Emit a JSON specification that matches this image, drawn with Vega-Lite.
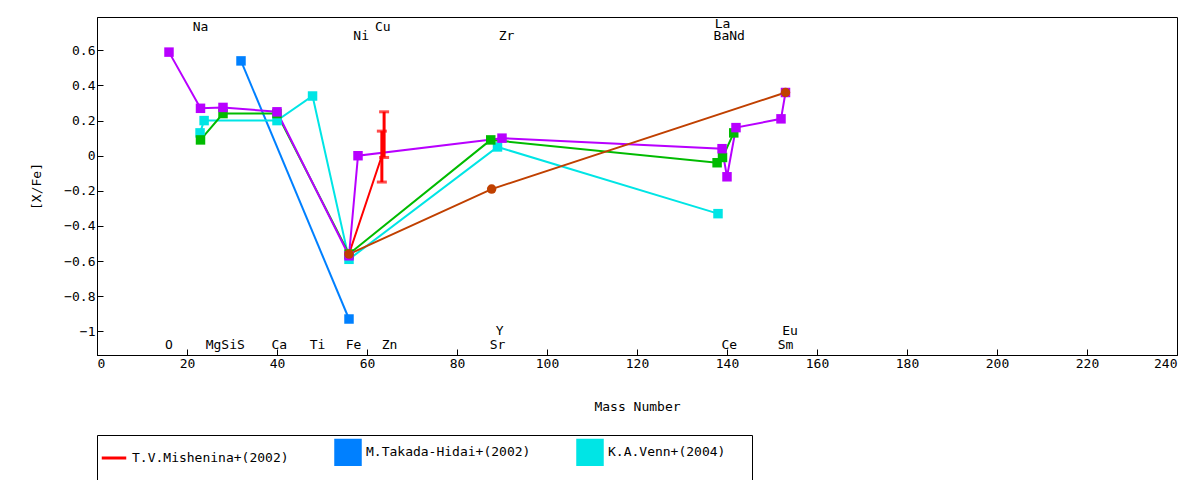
{
"$schema":"https://vega.github.io/schema/vega-lite/v6.json",
"width":1080,"height":338,
"autosize":{"type":"none"},
"padding":{"left":97,"top":17,"right":23,"bottom":125},
"config":{"font":"DejaVu Sans Mono","view":{"stroke":"black","strokeWidth":1},
 "axis":{"grid":false,"domainColor":"black","tickColor":"black","labelFont":"DejaVu Sans Mono","titleFont":"DejaVu Sans Mono","labelFontSize":13,"titleFontSize":13,"titleFontWeight":"normal","labelColor":"black","titleColor":"black","tickSize":-6}},
"datasets":{
"pts":[
{"s":"T.V.Mishenina+(2002)","o":1,"x":56,"y":-0.56},
{"s":"T.V.Mishenina+(2002)","o":2,"x":63.3,"y":0.0,"lo":-0.15,"hi":0.14},
{"s":"T.V.Mishenina+(2002)","o":3,"x":63.8,"y":0.12,"lo":-0.01,"hi":0.25},
{"s":"M.Takada-Hidai+(2002)","o":1,"x":32,"y":0.54},
{"s":"M.Takada-Hidai+(2002)","o":2,"x":56,"y":-0.93},
{"s":"K.A.Venn+(2004)","o":1,"x":22.9,"y":0.13},
{"s":"K.A.Venn+(2004)","o":2,"x":23.8,"y":0.2},
{"s":"K.A.Venn+(2004)","o":3,"x":40,"y":0.2},
{"s":"K.A.Venn+(2004)","o":4,"x":47.9,"y":0.34},
{"s":"K.A.Venn+(2004)","o":5,"x":56,"y":-0.59},
{"s":"K.A.Venn+(2004)","o":6,"x":89,"y":0.05},
{"s":"K.A.Venn+(2004)","o":7,"x":138,"y":-0.33},
{"s":"T.V.Mishenina+(2001)","o":1,"x":23,"y":0.09},
{"s":"T.V.Mishenina+(2001)","o":2,"x":28,"y":0.24},
{"s":"T.V.Mishenina+(2001)","o":3,"x":40,"y":0.24},
{"s":"T.V.Mishenina+(2001)","o":4,"x":56,"y":-0.56},
{"s":"T.V.Mishenina+(2001)","o":5,"x":87.5,"y":0.09},
{"s":"T.V.Mishenina+(2001)","o":6,"x":137.8,"y":-0.04},
{"s":"T.V.Mishenina+(2001)","o":7,"x":139,"y":-0.01},
{"s":"T.V.Mishenina+(2001)","o":8,"x":141.5,"y":0.13},
{"s":"T.V.Mishenina+(2013)","o":1,"x":16,"y":0.59},
{"s":"T.V.Mishenina+(2013)","o":2,"x":23,"y":0.27},
{"s":"T.V.Mishenina+(2013)","o":3,"x":28,"y":0.275},
{"s":"T.V.Mishenina+(2013)","o":4,"x":40,"y":0.25},
{"s":"T.V.Mishenina+(2013)","o":5,"x":56,"y":-0.57},
{"s":"T.V.Mishenina+(2013)","o":6,"x":58,"y":0.0},
{"s":"T.V.Mishenina+(2013)","o":7,"x":90,"y":0.1},
{"s":"T.V.Mishenina+(2013)","o":8,"x":138.9,"y":0.04},
{"s":"T.V.Mishenina+(2013)","o":9,"x":140,"y":-0.12},
{"s":"T.V.Mishenina+(2013)","o":10,"x":142,"y":0.16},
{"s":"T.V.Mishenina+(2013)","o":11,"x":152,"y":0.21},
{"s":"T.V.Mishenina+(2013)","o":12,"x":153,"y":0.36},
{"s":"T.Mishenina+(2019)","o":1,"x":56,"y":-0.56},
{"s":"T.Mishenina+(2019)","o":2,"x":87.7,"y":-0.19},
{"s":"T.Mishenina+(2019)","o":3,"x":153,"y":0.36}
],
"labels":[
{"t":"Na","x":23,"y":0.735},{"t":"Ni","x":58.7,"y":0.68},{"t":"Cu","x":63.5,"y":0.735},
{"t":"Zr","x":91,"y":0.68},{"t":"La","x":139,"y":0.75},{"t":"BaNd","x":140.5,"y":0.68},
{"t":"O","x":16,"y":-1.08},{"t":"MgSiS","x":28.5,"y":-1.08},{"t":"Ca","x":40.5,"y":-1.08},
{"t":"Ti","x":49,"y":-1.08},{"t":"Fe","x":57,"y":-1.08},{"t":"Zn","x":65,"y":-1.08},
{"t":"Sr","x":89,"y":-1.08},{"t":"Y","x":89.5,"y":-1.0},{"t":"Ce","x":140.5,"y":-1.08},
{"t":"Sm","x":153,"y":-1.08},{"t":"Eu","x":154,"y":-1.0}
]},
"layer":[
{"data":{"name":"pts"},"mark":{"type":"line","strokeWidth":2,"clip":true},
 "encoding":{
  "x":{"field":"x","type":"quantitative","scale":{"domain":[0,240],"nice":false},"title":"Mass Number","axis":{"values":[0,20,40,60,80,100,120,140,160,180,200,220,240],"titlePadding":30,"labelPadding":8}},
  "y":{"field":"y","type":"quantitative","scale":{"domain":[-1.135,0.79],"nice":false},"title":"[X/Fe]","axis":{"values":[-1,-0.8,-0.6,-0.4,-0.2,0,0.2,0.4,0.6],"format":"~g","titlePadding":20,"labelPadding":8}},
  "color":{"field":"s","type":"nominal","title":null,
   "scale":{"domain":["T.V.Mishenina+(2002)","M.Takada-Hidai+(2002)","K.A.Venn+(2004)","T.V.Mishenina+(2001)","T.V.Mishenina+(2013)","T.Mishenina+(2019)"],
    "range":["#ff0000","#0080ff","#00e5e5","#00bb00","#b800ff","#c04000"]},
   "legend":{"orient":"bottom","direction":"horizontal","columns":3,"columnPadding":40,"symbolType":"stroke","symbolStrokeWidth":3,"symbolSize":600,"labelFontSize":13,"labelFont":"DejaVu Sans Mono","strokeColor":"black","padding":3,"offset":22,"labelLimit":300,"rowPadding":4}},
  "order":{"field":"o"}}},
{"data":{"name":"pts"},"mark":{"type":"point","filled":true,"opacity":1,"size":90},
 "encoding":{"x":{"field":"x","type":"quantitative"},"y":{"field":"y","type":"quantitative"},
  "color":{"field":"s","type":"nominal"},
  "shape":{"field":"s","type":"nominal","legend":null,"scale":{"domain":["T.V.Mishenina+(2002)","M.Takada-Hidai+(2002)","K.A.Venn+(2004)","T.V.Mishenina+(2001)","T.V.Mishenina+(2013)","T.Mishenina+(2019)"],"range":["stroke","square","square","square","square","circle"]}}}},
{"data":{"name":"pts"},"transform":[{"filter":"isValid(datum.lo)"}],"mark":{"type":"rule","strokeWidth":3,"color":"#ff0000"},
 "encoding":{"x":{"field":"x","type":"quantitative"},"y":{"field":"lo","type":"quantitative"},"y2":{"field":"hi"}}},
{"data":{"name":"pts"},"transform":[{"filter":"isValid(datum.lo)"},{"fold":["lo","hi"],"as":["k","v"]}],"mark":{"type":"tick","orient":"horizontal","color":"#ff0000","thickness":3,"size":10},
 "encoding":{"x":{"field":"x","type":"quantitative"},"y":{"field":"v","type":"quantitative"}}},
{"data":{"name":"labels"},"mark":{"type":"text","fontSize":13,"font":"DejaVu Sans Mono","color":"black"},
 "encoding":{"x":{"field":"x","type":"quantitative"},"y":{"field":"y","type":"quantitative"},"text":{"field":"t"}}}
]
}
